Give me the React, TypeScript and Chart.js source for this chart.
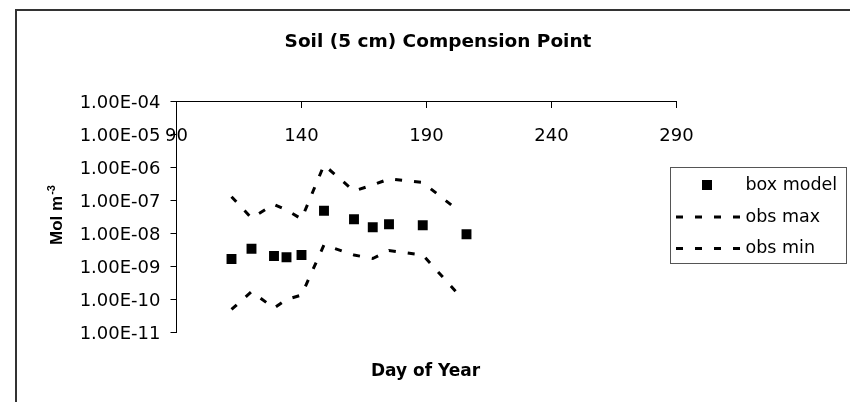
import React, { useEffect, useRef } from 'react';
import { Chart, registerables } from 'chart.js';

Chart.register(...registerables);

// ---- text ----
const TITLE = 'Soil (5 cm) Compension Point';
const X_TITLE = 'Day of Year';
const Y_TITLE = 'Mol m';
const Y_TITLE_SUP = '-3';
const legendLabels = ['box model', 'obs max', 'obs min'];

// ---- data ----
const modelDays = [112, 120, 129, 134, 140, 149, 161, 168.5, 175, 188.5, 206];
const boxModel = [1.69e-9, 3.46e-9, 2.08e-9, 1.9e-9, 2.23e-9, 4.91e-8, 2.69e-8, 1.54e-8, 1.9e-8, 1.77e-8, 9.46e-9];
const obsDays = [112, 120, 129, 134, 140, 149, 161, 168.5, 175, 188.5, 203];
const obsMax = [1.3e-7, 2.95e-8, 7.6e-8, 5.15e-8, 2.75e-8, 1.19e-6, 1.94e-7, 2.95e-7, 4.5e-7, 3.5e-7, 4.8e-8];
const obsMin = [5.0e-11, 1.73e-10, 5.5e-11, 1.0e-10, 1.37e-10, 4.5e-9, 2.23e-9, 1.75e-9, 3.05e-9, 2.23e-9, 1.37e-10];

// ---- ticks ----
const xTicks = [90, 140, 190, 240, 290];
const yTicks = [1e-4, 1e-5, 1e-6, 1e-7, 1e-8, 1e-9, 1e-10, 1e-11];
const yTickLabels = ['1.00E-04', '1.00E-05', '1.00E-06', '1.00E-07', '1.00E-08', '1.00E-09', '1.00E-10', '1.00E-11'];

const TICK_FONT = { family: '"DejaVu Sans"', size: 18 };

const decor = {
  id: 'decor',
  afterDraw(chart: any) {
    const { ctx, chartArea: ca } = chart;
    ctx.save();
    // outer frame (left & top visible)
    ctx.strokeStyle = '#333';
    ctx.lineWidth = 2;
    ctx.setLineDash([]);
    ctx.beginPath();
    ctx.moveTo(16, 402);
    ctx.lineTo(16, 10);
    ctx.lineTo(850, 10);
    ctx.stroke();

    ctx.fillStyle = '#000';
    // main title
    ctx.font = 'bold 18.5px "DejaVu Sans"';
    ctx.textAlign = 'center';
    ctx.textBaseline = 'alphabetic';
    ctx.fillText(TITLE, 438, 46.5);

    // x title
    ctx.font = 'bold 17px "DejaVu Sans"';
    ctx.fillText(X_TITLE, (ca.left + ca.right) / 2 - 1, 376);

    // y title with superscript
    ctx.save();
    ctx.translate(61.5, (ca.top + ca.bottom) / 2 - 2);
    ctx.rotate(-Math.PI / 2);
    ctx.textAlign = 'left';
    const mainFont = 'bold 17px "Liberation Sans"';
    const supFont = 'bold 11px "Liberation Sans"';
    ctx.font = mainFont;
    const wMain = ctx.measureText(Y_TITLE).width;
    ctx.font = supFont;
    const wSup = ctx.measureText(Y_TITLE_SUP).width;
    const start = -(wMain + wSup + 1) / 2;
    ctx.font = mainFont;
    ctx.fillText(Y_TITLE, start, 0);
    ctx.font = supFont;
    ctx.fillText(Y_TITLE_SUP, start + wMain + 1, -7);
    ctx.restore();

    // legend
    const lx = 670.5, ly = 167.5, lw = 176, lh = 96;
    ctx.strokeStyle = '#555';
    ctx.lineWidth = 1;
    ctx.strokeRect(lx, ly, lw, lh);
    const rows = [185, 217, 248.5];
    const ds = chart.data.datasets;
    rows.forEach((ry: number, i: number) => {
      const d = ds[i];
      if (i === 0) {
        ctx.fillStyle = d.pointBackgroundColor;
        ctx.fillRect(702, ry - 5, 10, 10);
      } else {
        ctx.strokeStyle = d.borderColor;
        ctx.lineWidth = d.borderWidth;
        ctx.setLineDash(d.borderDash);
        ctx.beginPath();
        ctx.moveTo(676, ry);
        ctx.lineTo(741, ry);
        ctx.stroke();
        ctx.setLineDash([]);
      }
      ctx.fillStyle = '#000';
      ctx.font = '17.5px "DejaVu Sans"';
      ctx.textAlign = 'left';
      ctx.textBaseline = 'middle';
      ctx.fillText(legendLabels[i], 745.5, ry);
    });
    ctx.restore();
  },
};

export default function App() {
  const ref = useRef<HTMLCanvasElement | null>(null);

  useEffect(() => {
    if (!ref.current) return;
    const chart = new Chart(ref.current, {
      type: 'scatter',
      data: {
        datasets: [
          {
            label: legendLabels[0],
            data: modelDays.map((d, i) => ({ x: d, y: boxModel[i] })),
            showLine: false,
            pointStyle: 'rect',
            pointRadius: 7,
            pointBackgroundColor: '#000',
            pointBorderWidth: 0,
            borderColor: '#000',
          },
          {
            label: legendLabels[1],
            data: obsDays.map((d, i) => ({ x: d, y: obsMax[i] })),
            showLine: true,
            borderColor: '#000',
            borderWidth: 3,
            borderDash: [7, 12],
            pointRadius: 0,
            tension: 0,
            fill: false,
          },
          {
            label: legendLabels[2],
            data: obsDays.map((d, i) => ({ x: d, y: obsMin[i] })),
            showLine: true,
            borderColor: '#000',
            borderWidth: 3,
            borderDash: [7, 12],
            pointRadius: 0,
            tension: 0,
            fill: false,
          },
        ],
      } as any,
      options: {
        responsive: false,
        animation: false,
        layout: { padding: { left: 0, right: 173.5, top: 101.5, bottom: 69.5 } },
        plugins: {
          legend: { display: false },
          title: { display: false },
          tooltip: { enabled: false },
        },
        scales: {
          x: {
            type: 'linear',
            position: { y: 1e-4 } as any,
            min: 90,
            max: 290,
            afterBuildTicks: (s: any) => {
              s.ticks = xTicks.map((v) => ({ value: v }));
            },
            afterFit: (s: any) => {
              s.height = 0;
            },
            grid: { display: true, drawOnChartArea: false, drawTicks: true, tickLength: 6, color: '#000', lineWidth: 1 },
            border: { display: true, color: '#000', width: 1 },
            ticks: {
              color: '#000',
              font: TICK_FONT,
              padding: 18,
              maxRotation: 0,
              autoSkip: false,
              callback: (v: any) => String(v),
            },
          },
          y: {
            type: 'logarithmic',
            position: 'left',
            min: 1e-11,
            max: 1e-4,
            afterBuildTicks: (s: any) => {
              s.ticks = yTicks.map((v) => ({ value: v, major: true }));
            },
            afterFit: (s: any) => {
              s.width = 176.5;
            },
            grid: { display: true, drawOnChartArea: false, drawTicks: true, tickLength: 6, color: '#000', lineWidth: 1 },
            border: { display: true, color: '#000', width: 1 },
            ticks: {
              color: '#000',
              font: TICK_FONT,
              padding: 10,
              labelOffset: 1.5,
              autoSkip: false,
              callback: (_v: any, i: number) => yTickLabels[i],
            },
          },
        } as any,
      },
      plugins: [decor],
    });
    return () => chart.destroy();
  }, []);

  return (
    <>
      <style>{'html,body{margin:0;padding:0;background:#fff}'}</style>
      <canvas ref={ref} width={850} height={402} style={{ display: 'block' }} />
    </>
  );
}
